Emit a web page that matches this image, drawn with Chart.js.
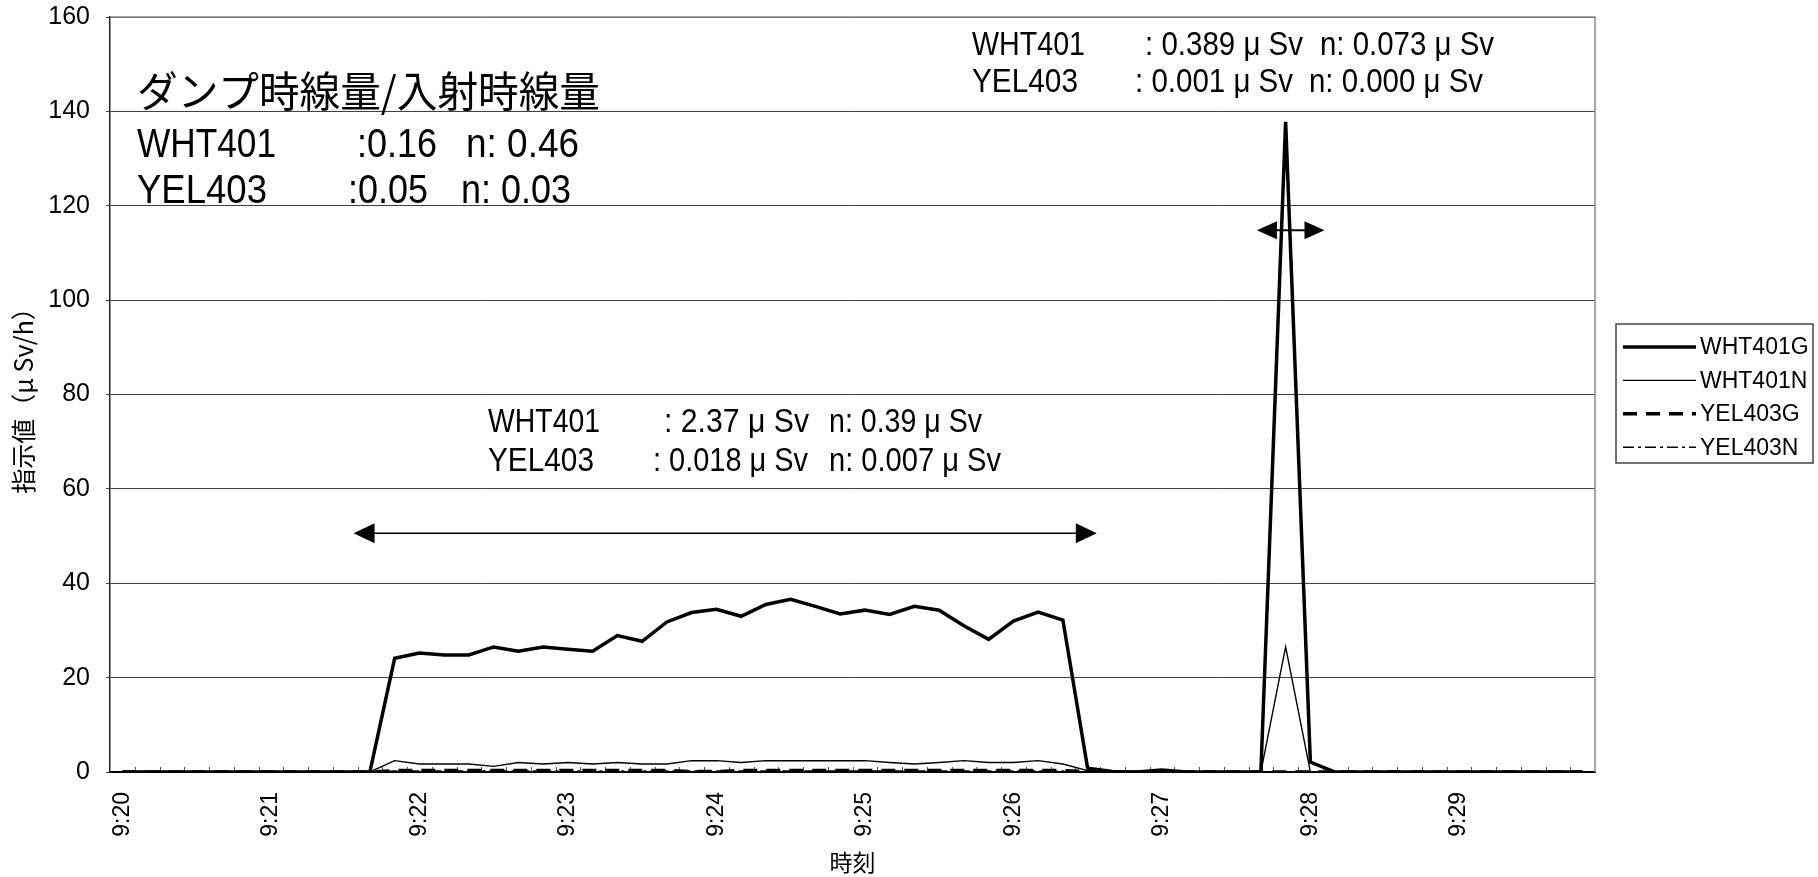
<!DOCTYPE html>
<html>
<head>
<meta charset="utf-8">
<script src="https://cdn.jsdelivr.net/npm/chart.js@4.4.1/dist/chart.umd.min.js"></script>
<style>
  html, body { margin: 0; padding: 0; background: #fff; }
  #wrap { width: 1818px; height: 877px; }
</style>
</head>
<body>
<div id="wrap"><canvas id="doseChart" width="1818" height="877"></canvas></div>
<script>
// 10 s samples, 9:20:00 - 9:29:50
const times = [
  '9:20:00', '9:20:10', '9:20:20', '9:20:30', '9:20:40', '9:20:50',
  '9:21:00', '9:21:10', '9:21:20', '9:21:30', '9:21:40', '9:21:50',
  '9:22:00', '9:22:10', '9:22:20', '9:22:30', '9:22:40', '9:22:50',
  '9:23:00', '9:23:10', '9:23:20', '9:23:30', '9:23:40', '9:23:50',
  '9:24:00', '9:24:10', '9:24:20', '9:24:30', '9:24:40', '9:24:50',
  '9:25:00', '9:25:10', '9:25:20', '9:25:30', '9:25:40', '9:25:50',
  '9:26:00', '9:26:10', '9:26:20', '9:26:30', '9:26:40', '9:26:50',
  '9:27:00', '9:27:10', '9:27:20', '9:27:30', '9:27:40', '9:27:50',
  '9:28:00', '9:28:10', '9:28:20', '9:28:30', '9:28:40', '9:28:50',
  '9:29:00', '9:29:10', '9:29:20', '9:29:30', '9:29:40', '9:29:50'
];

const wht401G = [
  0, 0, 0, 0, 0, 0, 0, 0, 0, 0,
  0, 24.1, 25.2, 24.8, 24.8, 26.5, 25.6, 26.5, 26.0, 25.6,
  28.9, 27.7, 31.8, 33.8, 34.5, 33.0, 35.5, 36.6, 35.1, 33.5,
  34.3, 33.4, 35.1, 34.3, 31.0, 28.1, 32.0, 33.9, 32.2, 0.8,
  0.1, 0, 0.4, 0, 0, 0, 0, 137.8, 2.1, 0,
  0, 0, 0, 0, 0, 0, 0, 0, 0, 0
];
const wht401N = [
  0, 0, 0, 0, 0, 0, 0, 0, 0, 0,
  0, 2.4, 1.7, 1.7, 1.7, 1.2, 2.0, 1.7, 2.0, 1.7,
  2.0, 1.7, 1.7, 2.4, 2.4, 2.0, 2.4, 2.4, 2.4, 2.4,
  2.4, 2.0, 1.7, 2.0, 2.4, 2.0, 2.0, 2.4, 1.7, 0.3,
  0, 0, 0, 0, 0, 0, 0, 26.5, 0, 0,
  0, 0, 0, 0, 0, 0, 0, 0, 0, 0
];
const yel403G = [
  0, 0, 0, 0, 0, 0, 0, 0, 0, 0,
  0, 0.3, 0.3, 0.3, 0.3, 0.3, 0.3, 0.3, 0.3, 0.3,
  0.3, 0.3, 0.3, 0.1, 0.1, 0.3, 0.3, 0.3, 0.3, 0.3,
  0.3, 0.3, 0.3, 0.3, 0.3, 0.3, 0.3, 0.3, 0.3, 0.1,
  0, 0, 0, 0, 0, 0, 0, 0, 0, 0,
  0, 0, 0, 0, 0, 0, 0, 0, 0, 0
];
const yel403N = [
  0, 0, 0, 0, 0, 0, 0, 0, 0, 0,
  0, 0.2, 0.2, 0.2, 0.2, 0.2, 0.2, 0.2, 0.2, 0.2,
  0.2, 0.2, 0.2, 0.2, 0.2, 0.2, 0.2, 0.2, 0.2, 0.2,
  0.2, 0.2, 0.2, 0.2, 0.2, 0.2, 0.2, 0.2, 0.2, 0.1,
  0, 0, 0, 0, 0, 0, 0, 0, 0, 0,
  0, 0, 0, 0, 0, 0, 0, 0, 0, 0
];
const seriesNames = ['WHT401G', 'WHT401N', 'YEL403G', 'YEL403N'];

const summaryTitle = 'ダンプ時線量/入射時線量';
const summaryRows = [
  ['WHT401', ':0.16', 'n: 0.46'],
  ['YEL403', ':0.05', 'n: 0.03']
];
const runNotes = [
  ['WHT401', ': 2.37 μ Sv', 'n: 0.39 μ Sv'],
  ['YEL403', ': 0.018 μ Sv', 'n: 0.007 μ Sv']
];
const spikeNotes = [
  ['WHT401', ': 0.389 μ Sv', 'n: 0.073 μ Sv'],
  ['YEL403', ': 0.001 μ Sv', 'n: 0.000 μ Sv']
];
// arrow spans in category index units, height in μSv/h
const runSpan = { from: 9.34, to: 39.37, at: 50.6 };
const spikeSpan = { from: 45.84, to: 48.57, at: 114.8 };

const SANS = "'Liberation Sans', Arial, sans-serif";
const CJK = "'Noto Sans CJK JP', 'Noto Sans', sans-serif";

function drawArrow(ctx, x1, x2, y, head, half, lw) {
    ctx.save();
    ctx.strokeStyle = '#000';
    ctx.fillStyle = '#000';
    ctx.lineWidth = lw;
    ctx.beginPath();
    ctx.moveTo(x1 + head - 2, y);
    ctx.lineTo(x2 - head + 2, y);
    ctx.stroke();
    ctx.beginPath();
    ctx.moveTo(x1, y);
    ctx.lineTo(x1 + head, y - half);
    ctx.lineTo(x1 + head, y + half);
    ctx.closePath();
    ctx.fill();
    ctx.beginPath();
    ctx.moveTo(x2, y);
    ctx.lineTo(x2 - head, y - half);
    ctx.lineTo(x2 - head, y + half);
    ctx.closePath();
    ctx.fill();
    ctx.restore();
}

// the original uses a condensed face: squeeze each piece to the width it has there
function fitText(ctx, text, x, y, font, width) {
    ctx.save();
    ctx.font = font;
    const w = ctx.measureText(text).width;
    ctx.translate(x, y);
    ctx.scale(width / w, 1);
    ctx.fillText(text, 0, 0);
    ctx.restore();
}

function drawRow(ctx, cols, xs, widths, y, font) {
    cols.forEach((t, i) => fitText(ctx, t, xs[i], y, font, widths[i]));
}

// plot frame + small inner tick marks on the time axis
const framePlugin = {
    id: 'frame',
    beforeDatasetsDraw(chart) {
        const { ctx, chartArea: a, scales: { x } } = chart;
        ctx.save();
        ctx.strokeStyle = '#8a8a8a';
        ctx.lineWidth = 1.5;
        ctx.beginPath();
        ctx.moveTo(a.left, a.top);
        ctx.lineTo(a.right, a.top);
        ctx.lineTo(a.right, a.bottom);
        ctx.stroke();
        ctx.strokeStyle = '#555';
        ctx.lineWidth = 1;
        ctx.beginPath();
        for (let k = 1; k < times.length; k++) {
            const px = Math.round((x.getPixelForValue(k - 1) + x.getPixelForValue(k)) / 2) + 0.5;
            ctx.moveTo(px, a.bottom);
            ctx.lineTo(px, a.bottom - 5);
        }
        ctx.stroke();
        ctx.restore();
    }
};

const notesPlugin = {
    id: 'notes',
    afterDatasetsDraw(chart) {
        const { ctx, scales: { x, y } } = chart;
        ctx.save();
        ctx.fillStyle = '#000';
        ctx.textAlign = 'left';

        ctx.textBaseline = 'middle';
        fitText(ctx, summaryTitle, 137, 91, '42px ' + CJK, 463);
        ctx.textBaseline = 'alphabetic';

        drawRow(ctx, summaryRows[0], [137, 357, 466], [139, 80, 113], 157, '40px ' + SANS);
        drawRow(ctx, summaryRows[1], [137, 348, 461], [130, 80, 110], 203, '40px ' + SANS);

        drawRow(ctx, runNotes[0], [488, 664, 829], [112, 145, 153], 432, '33px ' + SANS);
        drawRow(ctx, runNotes[1], [488, 653, 829], [106, 155, 172], 471, '33px ' + SANS);

        drawRow(ctx, spikeNotes[0], [972, 1145, 1320], [113, 158, 174], 55, '33px ' + SANS);
        drawRow(ctx, spikeNotes[1], [972, 1135, 1309], [106, 158, 174], 92, '33px ' + SANS);

        drawArrow(ctx, x.getPixelForValue(runSpan.from), x.getPixelForValue(runSpan.to),
            y.getPixelForValue(runSpan.at), 21, 10, 1.5);
        drawArrow(ctx, x.getPixelForValue(spikeSpan.from), x.getPixelForValue(spikeSpan.to),
            y.getPixelForValue(spikeSpan.at), 20, 9, 2);
        ctx.restore();
    }
};

const legendPlugin = {
    id: 'boxLegend',
    afterDraw(chart) {
        const ctx = chart.ctx;
        const left = 1616, top = 324, width = 197, height = 139;
        ctx.save();
        ctx.fillStyle = '#fff';
        ctx.fillRect(left, top, width, height);
        ctx.strokeStyle = '#444';
        ctx.lineWidth = 1.5;
        ctx.strokeRect(left, top, width, height);
        ctx.font = '23px ' + SANS;
        ctx.textBaseline = 'middle';
        ctx.fillStyle = '#000';
        chart.data.datasets.forEach((ds, i) => {
            const yy = 347 + i * 33.4;
            ctx.strokeStyle = '#000';
            ctx.lineWidth = ds.borderWidth;
            ctx.setLineDash(ds.borderDash || []);
            ctx.beginPath();
            ctx.moveTo(1623, yy);
            ctx.lineTo(1696, yy);
            ctx.stroke();
            ctx.setLineDash([]);
            ctx.fillText(ds.label, 1700, yy + 1);
        });
        ctx.restore();
    }
};

const ctx = document.getElementById('doseChart').getContext('2d');

const doseChart = new Chart(ctx, {
    type: 'line',
    data: {
        labels: times,
        datasets: [
            { label: seriesNames[0], data: wht401G, borderColor: '#000', borderWidth: 3.5 },
            { label: seriesNames[1], data: wht401N, borderColor: '#000', borderWidth: 1.4 },
            { label: seriesNames[2], data: yel403G, borderColor: '#000', borderWidth: 3.5, borderDash: [14, 9] },
            { label: seriesNames[3], data: yel403N, borderColor: '#000', borderWidth: 1.4, borderDash: [11, 4, 3, 4] }
        ]
    },
    options: {
        responsive: false,
        animation: false,
        devicePixelRatio: 1,
        layout: { padding: { top: 17, right: 223, bottom: 0, left: 0 } },
        elements: {
            point: { radius: 0 },
            line: { tension: 0, borderJoinStyle: 'miter', borderCapStyle: 'butt' }
        },
        plugins: {
            legend: { display: false },
            tooltip: { enabled: false }
        },
        scales: {
            x: {
                offset: true,
                grid: { display: false, drawTicks: false },
                border: { display: true, color: '#000', width: 2 },
                ticks: {
                    autoSkip: false,
                    minRotation: 90,
                    maxRotation: 90,
                    padding: 20,
                    color: '#000',
                    font: { family: SANS, size: 23 },
                    callback: function (value) {
                        const t = this.getLabelForValue(value);
                        return t.endsWith(':00') ? t.slice(0, -3) : '';
                    }
                },
                title: {
                    display: true,
                    text: '時刻',
                    color: '#000',
                    font: { family: CJK, size: 23 },
                    padding: { top: 0, bottom: 1 }
                },
                afterFit: function (scale) { scale.height = 105; }
            },
            y: {
                min: 0,
                max: 160,
                ticks: {
                    stepSize: 20,
                    padding: 16,
                    color: '#000',
                    font: { family: SANS, size: 25 }
                },
                grid: { color: '#404040', lineWidth: 1, tickLength: 4, tickColor: '#404040' },
                border: { display: true, color: '#222', width: 1.5 },
                title: {
                    display: true,
                    text: '指示値（μ Sv/h）',
                    color: '#000',
                    font: { family: CJK, size: 25 },
                    padding: { top: 8, bottom: 0 }
                },
                afterFit: function (scale) {
                    scale.width = 110;
                    // keep the plot top where the original has it
                    scale.paddingTop = 0;
                    scale.paddingBottom = 0;
                }
            }
        }
    },
    plugins: [framePlugin, notesPlugin, legendPlugin]
});
</script>
</body>
</html>
